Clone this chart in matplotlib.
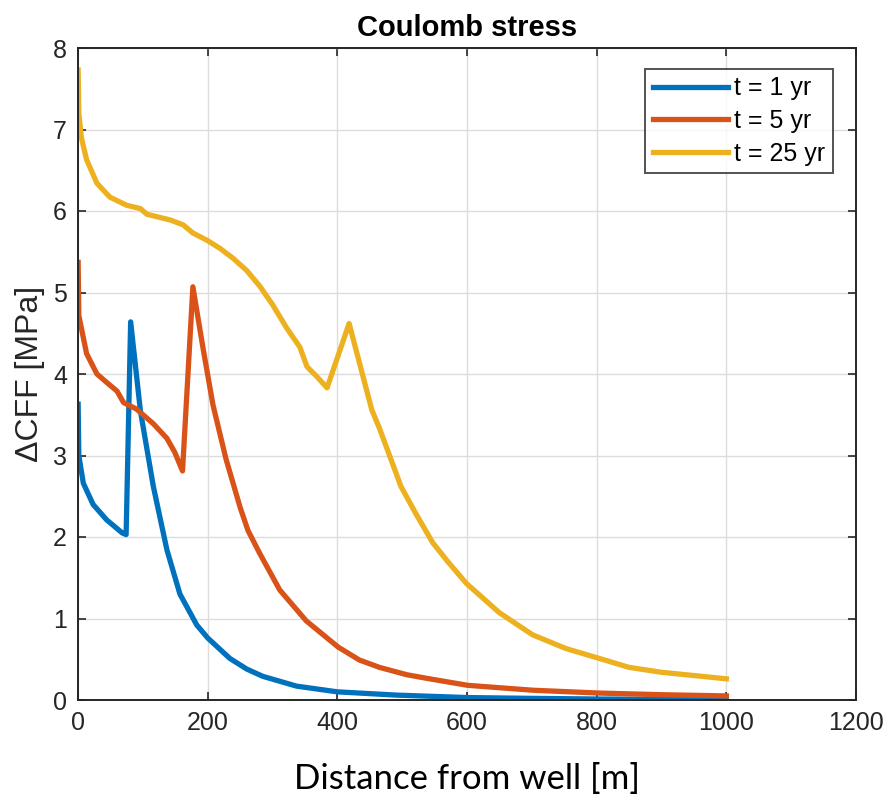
import matplotlib
matplotlib.use("Agg")
import matplotlib.pyplot as plt

# distance from well [m] and Coulomb stress change [MPa]
x_1yr = [0, 1, 8, 23, 44, 68, 74, 81, 96, 116, 137, 157, 183, 200, 234, 260,
         285, 337, 400, 491, 600, 700, 800, 900, 1000]
cff_1yr = [3.63, 3.0, 2.66, 2.40, 2.21, 2.05, 2.03, 4.64, 3.55, 2.62, 1.84,
           1.30, 0.92, 0.76, 0.51, 0.38, 0.29, 0.17, 0.10, 0.06, 0.03, 0.02,
           0.012, 0.008, 0.005]

x_5yr = [0, 1, 13, 29, 45, 60, 70, 90, 116, 137, 149, 161, 177, 193, 208, 228,
         250, 262, 280, 311, 352, 401, 434, 465, 507, 542, 601, 701, 804, 900,
         1000]
cff_5yr = [5.37, 4.72, 4.25, 4.0, 3.89, 3.79, 3.65, 3.57, 3.39, 3.21, 3.04,
           2.81, 5.07, 4.3, 3.62, 2.96, 2.36, 2.08, 1.80, 1.35, 0.97, 0.65,
           0.49, 0.40, 0.31, 0.26, 0.18, 0.12, 0.085, 0.065, 0.05]

x_25yr = [0, 1, 5, 13, 29, 49, 75, 96, 106, 142, 162, 177, 199, 219, 239, 260,
          280, 300, 322, 342, 353, 368, 384, 418, 453, 465, 498, 520, 547, 570,
          599, 650, 701, 753, 804, 850, 900, 950, 1000]
cff_25yr = [7.73, 7.2, 6.9, 6.63, 6.34, 6.17, 6.07, 6.03, 5.96, 5.89, 5.83,
            5.73, 5.64, 5.54, 5.42, 5.27, 5.08, 4.85, 4.56, 4.33, 4.09, 3.97,
            3.83, 4.62, 3.56, 3.33, 2.62, 2.3, 1.93, 1.7, 1.43, 1.07, 0.80,
            0.63, 0.51, 0.40, 0.34, 0.30, 0.26]

labels = ["t = 1 yr", "t = 5 yr", "t = 25 yr"]
colors = ["#0072BD", "#D95319", "#EDB120"]

plt.rcParams['font.family'] = ['Liberation Sans', 'DejaVu Sans']

fig = plt.figure(figsize=(8.88, 8.0), dpi=100)
ax = fig.add_axes([0.088, 0.125, 0.876, 0.815])

series = [(x_1yr, cff_1yr), (x_5yr, cff_5yr), (x_25yr, cff_25yr)]
for (xs, ys), lab, col in zip(series, labels, colors):
    ax.plot(xs, ys, color=col, lw=3.8, label=lab, solid_joinstyle='round')

ax.set_xlim(0, 1200)
ax.set_ylim(0, 8)
ax.set_xticks(range(0, 1201, 200))
ax.set_yticks(range(0, 9))
ax.grid(True, color='#dcdcdc', lw=1.0)
ax.set_axisbelow(True)
ax.tick_params(direction='in', top=True, right=True, length=6,
               width=1.2, color='#262626', labelsize=18, labelcolor='#262626',
               pad=8)
for sp in ax.spines.values():
    sp.set_color('#262626')
    sp.set_linewidth(1.4)

ax.set_title("Coulomb stress", fontsize=21, fontweight='bold', pad=9)
ax.set_ylabel("\u0394CFF [MPa]", fontsize=23, color='#262626', labelpad=6)
ax.set_xlabel("Distance from well [m]", fontsize=25, family='Lato',
              labelpad=20)

leg = ax.legend(loc='upper right', fontsize=18, frameon=True, fancybox=False,
                edgecolor='#262626', handlelength=3.0, handletextpad=0.25,
                borderpad=0.3, labelspacing=0.35, borderaxespad=0,
                bbox_to_anchor=(0.97, 0.968))
leg.get_frame().set_linewidth(1.4)

fig.savefig("out.png", dpi=100)
